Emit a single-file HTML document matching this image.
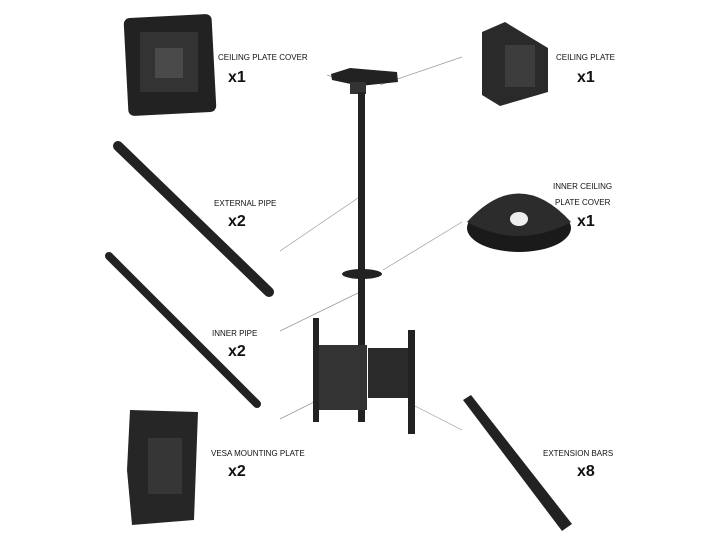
<!DOCTYPE html><html><head><style>body{margin:0;background:#fff}svg{display:block}text{font-family:"Liberation Sans",sans-serif;fill:#111}.s{font-size:8px}.b{font-size:16px;font-weight:bold}</style></head><body>
<svg width="720" height="540" viewBox="0 0 720 540">
<rect width="720" height="540" fill="#fff"/>
<g stroke="#999" stroke-width="0.7">
<line x1="327" y1="75" x2="348" y2="82"/><line x1="462" y1="57" x2="380" y2="85"/>
<line x1="280" y1="251" x2="358" y2="198"/><line x1="462" y1="222" x2="383" y2="270"/>
<line x1="280" y1="331" x2="358" y2="293"/><line x1="280" y1="419" x2="318" y2="400"/>
<line x1="415" y1="406" x2="462" y2="430"/></g>
<rect x="126" y="16" width="88" height="98" rx="6" fill="#222" transform="rotate(-3 170 65)"/>
<rect x="140" y="32" width="58" height="60" fill="#333"/><rect x="155" y="48" width="28" height="30" fill="#4a4a4a"/>
<polygon points="482,32 505,22 548,48 548,92 500,106 482,95" fill="#2a2a2a"/>
<rect x="505" y="45" width="30" height="42" fill="#3c3c3c"/>
<line x1="118" y1="146" x2="269" y2="292" stroke="#222" stroke-width="10" stroke-linecap="round"/>
<line x1="109" y1="256" x2="257" y2="404" stroke="#222" stroke-width="8" stroke-linecap="round"/>
<ellipse cx="519" cy="228" rx="52" ry="24" fill="#1a1a1a"/><path d="M467,222 Q519,165 571,222 Q519,250 467,222Z" fill="#2c2c2c"/><ellipse cx="519" cy="219" rx="9" ry="7" fill="#eee"/>
<polygon points="130,410 198,412 194,520 132,525 127,470" fill="#262626"/>
<rect x="148" y="438" width="34" height="56" fill="#363636"/>
<polygon points="463,400 471,395 572,524 562,531" fill="#222"/>
<polygon points="331,74 350,68 397,72 398,82 360,86 332,80" fill="#222"/>
<rect x="350" y="82" width="16" height="12" fill="#333"/>
<rect x="358" y="92" width="7" height="330" fill="#222"/>
<ellipse cx="362" cy="274" rx="20" ry="5" fill="#222"/>
<rect x="313" y="318" width="6" height="104" fill="#222"/><rect x="408" y="330" width="7" height="104" fill="#222"/>
<rect x="319" y="345" width="48" height="65" fill="#333"/><rect x="368" y="348" width="40" height="50" fill="#2a2a2a"/>
<text class="s" x="218" y="60">CEILING PLATE COVER</text><text class="b" x="228" y="82">x1</text>
<text class="s" x="556" y="60">CEILING PLATE</text><text class="b" x="577" y="82">x1</text>
<text class="s" x="214" y="206">EXTERNAL PIPE</text><text class="b" x="228" y="226">x2</text>
<text class="s" x="553" y="189">INNER CEILING</text><text class="s" x="555" y="205">PLATE COVER</text><text class="b" x="577" y="226">x1</text>
<text class="s" x="212" y="336">INNER PIPE</text><text class="b" x="228" y="356">x2</text>
<text class="s" x="211" y="456">VESA MOUNTING PLATE</text><text class="b" x="228" y="476">x2</text>
<text class="s" x="543" y="456">EXTENSION BARS</text><text class="b" x="577" y="476">x8</text>
</svg></body></html>
